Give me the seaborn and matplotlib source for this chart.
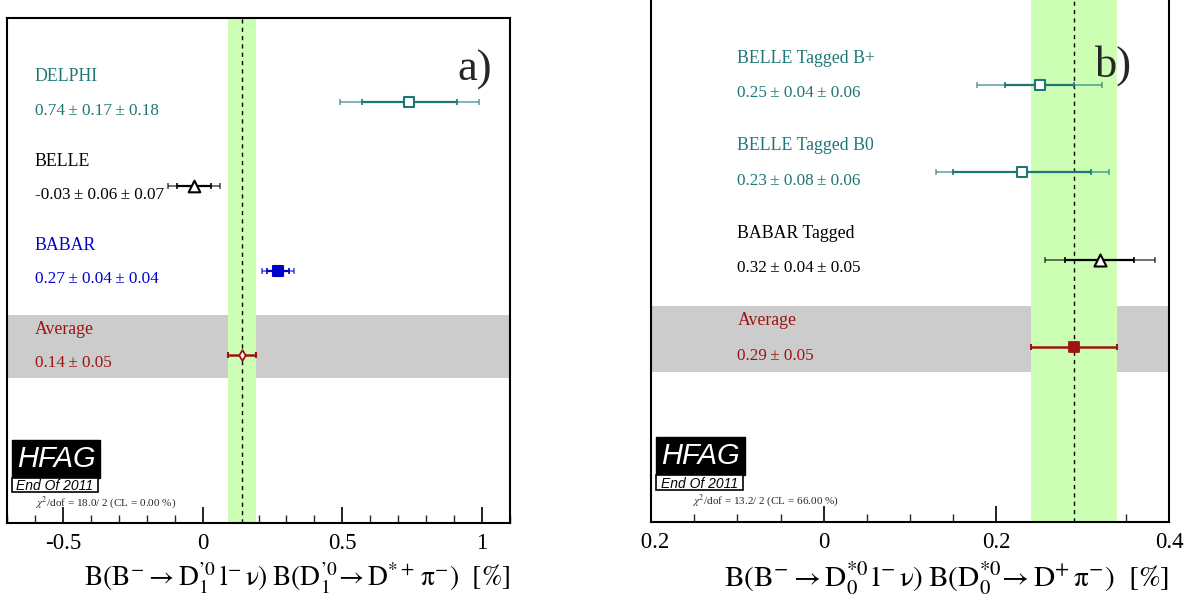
import numpy as np
import pandas as pd
import matplotlib
matplotlib.use("Agg")
import matplotlib.pyplot as plt
import seaborn as sns
from matplotlib.patches import Rectangle
from matplotlib.transforms import Bbox
from matplotlib.ticker import MultipleLocator

# ---------------- data ----------------
a_names = ["DELPHI", "BELLE", "BABAR"]
a_vals = [0.74, -0.03, 0.27]
a_stat = [0.17, 0.06, 0.04]
a_syst = [0.18, 0.07, 0.04]
a_avg = 0.14
a_avg_err = 0.05
a_chi2 = r"$\chi^{2}$/dof = 18.0/ 2 (CL = 0.00 %)"
a_ticks = [-0.5, 0, 0.5, 1]
a_ticklabels = ["-0.5", "0", "0.5", "1"]
a_xlabel = r"$\mathrm{B(B^{-}\rightarrow D_{1}^{’0}\,l^{-}\,\nu)\;B(D_{1}^{’0}\!\rightarrow D^{*+}\,\pi^{-})}\ \ [\%]$"

b_names = ["BELLE Tagged B+", "BELLE Tagged B0", "BABAR Tagged"]
b_vals = [0.25, 0.23, 0.32]
b_stat = [0.04, 0.08, 0.04]
b_syst = [0.06, 0.06, 0.05]
b_avg = 0.29
b_avg_err = 0.05
b_chi2 = r"$\chi^{2}$/dof = 13.2/ 2 (CL = 66.00 %)"
b_ticks = [-0.2, 0, 0.2, 0.4]
b_ticklabels = ["-0.2", "0", "0.2", "0.4"]
b_xlabel = r"$\mathrm{B(B^{-}\rightarrow D_{0}^{*0}\,l^{-}\,\nu)\;B(D_{0}^{*0}\!\rightarrow D^{+}\,\pi^{-})}\ \ [\%]$"

# ---------------- style ----------------
sns.set_theme(style="white")
plt.rcParams["font.family"] = ["Liberation Serif", "DejaVu Serif"]
plt.rcParams["mathtext.fontset"] = "stix"

TEAL = "#1f7676"
BLUE = "#0000cc"
RED = "#9e1414"
GREEN = "#ccffb3"
GRAY = "#cccccc"

a_colors = [TEAL, "black", BLUE]
a_markers = ["s", "^", "s"]
a_filled = [False, False, True]
a_sizes = [48, 70, 45]

b_colors = [TEAL, TEAL, "black"]
b_markers = ["s", "s", "^"]
b_filled = [False, False, False]
b_sizes = [55, 55, 75]

W, H = 1200, 597
fig = plt.figure(figsize=(W / 100, H / 100), dpi=100)
TS = "\u2009"  # thin space


def px_axes(x0, x1, ytop, ybot):
    return fig.add_axes([x0 / W, 1 - ybot / H, (x1 - x0) / W, (ybot - ytop) / H])


def panel(ax, names, vals, stat, syst, avg, avg_err, colors, markers, filled, sizes,
          xlim, ticks, ticklabels, minor, xlabel, xlabel_size, chi2, tag, tagpos,
          text_x, avg_marker, avg_filled, avg_size, logo, chi_dx):
    n = len(names)
    pos = np.array([5, 4, 3])[:n]
    total = np.sqrt(np.array(stat) ** 2 + np.array(syst) ** 2)

    ax.set_xlim(*xlim)
    ax.set_ylim(0, 6)

    ax.axhspan(1.72, 2.47, color=GRAY, lw=0, zorder=0.5)
    ax.axvspan(avg - avg_err, avg + avg_err, color=GREEN, lw=0, zorder=1)
    ax.axvline(avg, color="black", ls=(0, (3, 3)), lw=1.0, zorder=2)

    df = pd.DataFrame({"name": names, "value": vals, "pos": pos})
    for i in range(n):
        c = colors[i]
        ax.errorbar(vals[i], pos[i], xerr=total[i], fmt="none", ecolor=c,
                    elinewidth=1.2, capsize=2.2, capthick=1.2, alpha=0.65, zorder=3)
        ax.errorbar(vals[i], pos[i], xerr=stat[i], fmt="none", ecolor=c,
                    elinewidth=1.6, capsize=2.2, capthick=1.2, zorder=3.5)
        sns.scatterplot(data=df.iloc[[i]], x="value", y="pos", ax=ax,
                        marker=markers[i], s=sizes[i],
                        facecolor=(c if filled[i] else "white"), edgecolor=c,
                        linewidth=1.5, zorder=5, legend=False)
        ax.text(text_x, pos[i] + 0.3, names[i], color=c, fontsize=12.8,
                va="center", ha="left", zorder=6)
        ax.text(text_x, pos[i] - 0.1,
                f"{vals[i]:.2f}{TS}± {stat[i]:.2f}{TS}± {syst[i]:.2f}", color=c,
                fontsize=12.3, va="center", ha="left", zorder=6)

    # average
    ax.errorbar(avg, 2, xerr=avg_err, fmt="none", ecolor=RED, elinewidth=1.8,
                capsize=2.5, capthick=1.5, zorder=3.5)
    adf = pd.DataFrame({"value": [avg], "pos": [2]})
    sns.scatterplot(data=adf, x="value", y="pos", ax=ax, marker=avg_marker,
                    s=avg_size, facecolor=(RED if avg_filled else "white"),
                    edgecolor=RED, linewidth=1.3, zorder=5, legend=False)
    ax.text(text_x, 2.3, "Average", color=RED, fontsize=12.8, va="center",
            ha="left", zorder=6)
    ax.text(text_x, 1.9, f"{avg:.2f}{TS}± {avg_err:.2f}", color=RED,
            fontsize=12.3, va="center", ha="left", zorder=6)

    # axes style
    ax.set_xticks(ticks)
    ax.set_xticklabels(ticklabels)
    ax.xaxis.set_minor_locator(MultipleLocator(minor))
    ax.set_yticks([])
    ax.tick_params(axis="x", which="major", direction="in", length=11.5,
                   width=1.2, labelsize=16.5, pad=7, bottom=True, top=False,
                   colors="black")
    ax.tick_params(axis="x", which="minor", direction="in", length=5.8,
                   width=1.0, bottom=True, top=False)
    for s in ax.spines.values():
        s.set_color("black")
        s.set_linewidth(1.5)
    ax.set_xlabel(xlabel, fontsize=xlabel_size, loc="right", labelpad=5,
                  color="black")
    ax.set_ylabel("")
    ax.grid(False)

    ax.text(tagpos[0], tagpos[1], tag, transform=ax.transAxes, fontsize=32,
            ha="center", va="center", zorder=6)

    # HFAG logo
    bx0, bx1, by0, by1, wx1, wy0 = logo
    ax.add_patch(Rectangle((bx0, by0), bx1 - bx0, by1 - by0, transform=ax.transAxes,
                           facecolor="black", edgecolor="black", zorder=7))
    ax.add_patch(Rectangle((bx0, wy0), wx1 - bx0, by0 - wy0, transform=ax.transAxes,
                           facecolor="white", edgecolor="black", lw=1.2, zorder=7))
    ax.text((bx0 + bx1) / 2, (by0 + by1) / 2, "HFAG", transform=ax.transAxes,
            color="white", fontsize=21, style="italic", family="Liberation Sans",
            ha="center", va="center", zorder=8)
    ax.text((bx0 + wx1) / 2, (wy0 + by0) / 2 - 0.002, "End Of 2011",
            transform=ax.transAxes, color="black", fontsize=10, style="italic",
            family="Liberation Sans", ha="center", va="center", zorder=8)
    ax.text(bx0 + chi_dx, wy0 - 0.02, chi2, transform=ax.transAxes, fontsize=8,
            ha="left", va="center", zorder=8)


axa = px_axes(7, 510, 18, 523)
panel(axa, a_names, a_vals, a_stat, a_syst, a_avg, a_avg_err, a_colors, a_markers,
      a_filled, a_sizes, (-0.7, 1.1), a_ticks, a_ticklabels, 0.1, a_xlabel, 19.8,
      a_chi2, "a)", (0.93, 0.897), -0.6, "d", False, 30,
      (0.0099, 0.185, 0.089, 0.164, 0.181, 0.061), 0.046)

axb = px_axes(651, 1169, -3, 522)
panel(axb, b_names, b_vals, b_stat, b_syst, b_avg, b_avg_err, b_colors, b_markers,
      b_filled, b_sizes, (-0.2, 0.4), b_ticks, b_ticklabels, 0.05, b_xlabel, 21.2,
      b_chi2, "b)", (0.892, 0.870), -0.1, "s", True, 60,
      (0.0097, 0.181, 0.0895, 0.162, 0.178, 0.061), 0.07)

# the right panel's leftmost label is cut at the panel's image edge
clip = Bbox.from_extents(641, 0, W, H)
for lab in axb.get_xticklabels():
    lab.set_clip_on(True)
    lab.set_clip_box(clip)

fig.savefig("out.png", dpi=100)
